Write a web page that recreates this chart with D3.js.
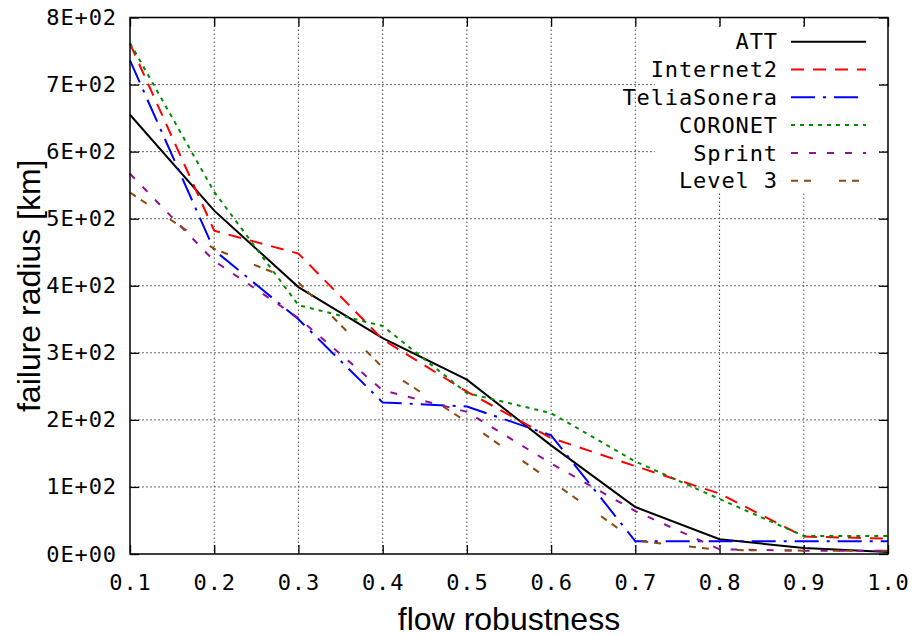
<!DOCTYPE html>
<html lang="en">
<head>
	<meta charset="utf-8">
	<title>failure radius vs flow robustness</title>
	<script src='https://d3js.org/d3.v7.min.js'></script>
	<style>
		body { margin:0; background:#fff; }
		.tick text { font-family:"DejaVu Sans Mono", monospace; font-size:22px; letter-spacing:0.9px; fill:#000; }
		.legend text { font-family:"DejaVu Sans Mono", monospace; font-size:22px; letter-spacing:0.9px; fill:#000; }
		.title { font-family:"Liberation Sans", Arial, sans-serif; font-size:32px; fill:#000; }
	</style>
</head>
<body>
	<div id="chart"></div>
	<script>
		// data
		var flowRobustness = [0.1, 0.2, 0.3, 0.4, 0.5, 0.6, 0.7, 0.8, 0.9, 1.0];
		var networkNames = ["ATT", "Internet2", "TeliaSonera", "CORONET", "Sprint", "Level 3"];
		var attRadius         = [655, 512, 398, 322, 260, 162, 70, 22, 9, 3];
		var internet2Radius   = [761, 482, 448, 320, 242, 173, 131, 90, 26, 23];
		var teliaSoneraRadius = [736, 453, 350, 226, 220, 177, 19, 19, 19, 19];
		var coronetRadius     = [762, 540, 371, 340, 240, 210, 138, 82, 27, 27];
		var sprintRadius      = [567, 437, 352, 244, 212, 135, 64, 7, 5, 5];
		var level3Radius      = [539, 455, 405, 278, 197, 109, 20, 6, 5, 5];
		var yTicks = [0, 100, 200, 300, 400, 500, 600, 700, 800];

		var allSeries = [attRadius, internet2Radius, teliaSoneraRadius, coronetRadius, sprintRadius, level3Radius];
		var lineColors = ["#000000", "#ff0000", "#0000ff", "#008c00", "#920f9b", "#8b4a12"];
		var lineDashes = ["none", "13,9", "24,8,3,8", "4,5", "7,11", "7,6,7,28"];

		const width = 917;
		const height = 638;
		const plotLeft = 130, plotRight = 888, plotTop = 17.5, plotBottom = 554;

		var svg = d3.select("#chart")
					.append("svg")
					.attr("width", width)
					.attr("height", height);

		let xscale = d3.scaleLinear()
						.domain([0.1, 1.0])
						.range([plotLeft, plotRight]);
		let yscale = d3.scaleLinear()
						.domain([0, 800])
						.range([plotBottom, plotTop]);

		function sciLabel(d) {
			let e = d === 0 ? 0 : Math.floor(Math.log10(d));
			let m = d / Math.pow(10, e);
			return m + "E+" + String(e).padStart(2, "0");
		}

		// grid
		svg.append("g")
			.selectAll("line.vgrid")
			.data(flowRobustness.slice(1, -1))
			.enter()
			.append("line")
			.attr("x1", d => xscale(d)).attr("x2", d => xscale(d))
			.attr("y1", plotTop).attr("y2", plotBottom)
			.attr("stroke", "#444").attr("stroke-width", 1)
			.attr("stroke-dasharray", "1.5,2.5");
		svg.append("g")
			.selectAll("line.hgrid")
			.data(yTicks.slice(1, -1))
			.enter()
			.append("line")
			.attr("x1", plotLeft).attr("x2", plotRight)
			.attr("y1", d => yscale(d)).attr("y2", d => yscale(d))
			.attr("stroke", "#666").attr("stroke-width", 1)
			.attr("stroke-dasharray", "2,2");

		// axes, ticks pointing inwards on all four sides
		let x_axis_bottom = d3.axisBottom(xscale).tickValues(flowRobustness).tickFormat(d3.format(".1f")).tickSizeInner(-9).tickSizeOuter(0).tickPadding(20);
		let x_axis_top = d3.axisTop(xscale).tickValues(flowRobustness).tickFormat("").tickSizeInner(-9).tickSizeOuter(0);
		let y_axis_left = d3.axisLeft(yscale).tickValues(yTicks).tickFormat(sciLabel).tickSizeInner(-9).tickSizeOuter(0).tickPadding(13);
		let y_axis_right = d3.axisRight(yscale).tickValues(yTicks).tickFormat("").tickSizeInner(-9).tickSizeOuter(0);

		svg.append("g").attr("transform", "translate(0," + plotBottom + ")").call(x_axis_bottom);
		svg.append("g").attr("transform", "translate(0," + plotTop + ")").call(x_axis_top);
		svg.append("g").attr("transform", "translate(" + plotLeft + ",0)").call(y_axis_left);
		svg.append("g").attr("transform", "translate(" + plotRight + ",0)").call(y_axis_right);
		svg.selectAll(".domain").remove();
		svg.selectAll(".tick line").attr("stroke", "#000").attr("stroke-width", 1.3);
		svg.selectAll(".tick text").attr("fill", "#000");

		// lines
		let line = d3.line()
					.x((d, i) => xscale(flowRobustness[i]))
					.y(d => yscale(d));
		svg.append("g")
			.selectAll("path.series")
			.data(allSeries)
			.enter()
			.append("path")
			.attr("class", "series")
			.attr("d", d => line(d))
			.attr("fill", "none")
			.attr("stroke", (d, i) => lineColors[i])
			.attr("stroke-width", 2)
			.attr("stroke-dasharray", (d, i) => lineDashes[i]);

		// frame
		svg.append("rect")
			.attr("x", plotLeft).attr("y", plotTop)
			.attr("width", plotRight - plotLeft).attr("height", plotBottom - plotTop)
			.attr("fill", "none").attr("stroke", "#000").attr("stroke-width", 1.5);

		// legend with white box behind it
		let legend = svg.append("g").attr("class", "legend");
		legend.append("rect")
			.attr("x", 655).attr("y", 27)
			.attr("width", 224).attr("height", 166)
			.attr("fill", "#fff");
		let rows = legend.selectAll("g.row")
			.data(networkNames)
			.enter()
			.append("g")
			.attr("class", "row")
			.attr("transform", (d, i) => "translate(0," + (41.7 + i * 27.8) + ")");
		rows.append("text")
			.attr("x", 778).attr("y", 0)
			.attr("dy", "0.35em")
			.attr("text-anchor", "end")
			.text(d => d);
		rows.append("line")
			.attr("x1", 791).attr("x2", 866)
			.attr("y1", 0).attr("y2", 0)
			.attr("stroke", (d, i) => lineColors[i])
			.attr("stroke-width", 2)
			.attr("stroke-dasharray", (d, i) => lineDashes[i]);

		// axis titles
		svg.append("text")
			.attr("class", "title")
			.attr("x", (plotLeft + plotRight) / 2).attr("y", 630)
			.attr("text-anchor", "middle")
			.text("flow robustness");
		svg.append("text")
			.attr("class", "title")
			.attr("transform", "translate(40," + ((plotTop + plotBottom) / 2) + ") rotate(-90)")
			.attr("text-anchor", "middle")
			.text("failure radius [km]");
	</script>
</body>
</html>
